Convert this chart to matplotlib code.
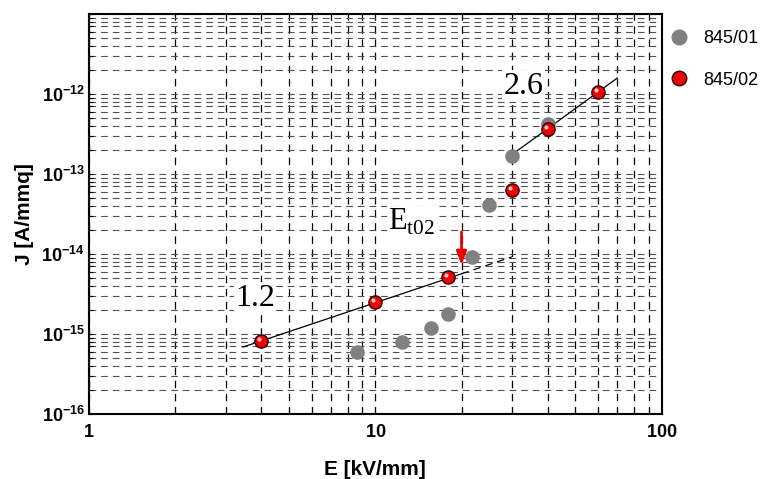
import numpy as np
import matplotlib
matplotlib.use('Agg')
import matplotlib.pyplot as plt
from matplotlib.ticker import LogLocator, FuncFormatter, NullFormatter
from matplotlib.transforms import ScaledTranslation

# Fonts: Arial-like sans for axes, Times-like serif for the annotations
plt.rcParams['font.family'] = ['Liberation Sans', 'DejaVu Sans']
plt.rcParams['mathtext.fontset'] = 'custom'
plt.rcParams['mathtext.rm'] = 'Liberation Sans'
plt.rcParams['mathtext.bf'] = 'Liberation Sans:bold'

# Data
E_01 = [8.65, 12.4, 15.7, 18.0, 21.8, 25.0, 30.0, 40.0]
J_01 = [6.0e-16, 7.9e-16, 1.2e-15, 1.78e-15, 9.2e-15, 4.1e-14, 1.7e-13, 4.2e-13]

E_02 = [4.0, 10.0, 18.0, 30.0, 40.0, 60.0]
J_02 = [8.2e-16, 2.5e-15, 5.2e-15, 6.3e-14, 3.65e-13, 1.06e-12]

# Power-law fits: exponent, anchor point, and E range
slope_low = 1.2
anchor_low = (4.0, 8.2e-16)
E_low_solid = [3.45, 20.0]
E_low_dash = [20.0, 30.0]

slope_high = 2.6
anchor_high = (60.0, 1.06e-12)
E_high = [31.0, 70.0]

# Threshold field marker
E_t02 = 20.0
arrow_J = (2.05e-14, 6.7e-15)


def power_law(E, slope, anchor):
    E = np.asarray(E)
    return anchor[1] * (E / anchor[0]) ** slope


def xfmt(v, p):
    if v < 0.99 or v > 101:
        return ''
    return r'$\mathbf{%d}$' % round(v)


def yfmt(v, p):
    # no label on the top edge (1e-11) nor outside the view
    if v < 0.99e-16 or v > 5e-12:
        return ''
    return r'$\mathbf{10^{%d}}$' % round(np.log10(v))


fig = plt.figure(figsize=(7.64, 4.79), dpi=100)
ax = fig.add_axes([0.1165, 0.1357, 0.7495, 0.835])
ax.set_xscale('log')
ax.set_yscale('log')
ax.set_xlim(1, 100)
ax.set_ylim(1e-16, 1e-11)

# Dashed grid at every major and minor decade step
ax.xaxis.set_minor_locator(LogLocator(base=10, subs=np.arange(2, 10)))
ax.yaxis.set_minor_locator(LogLocator(base=10, subs=np.arange(2, 10)))
ax.xaxis.grid(True, which='both', color='black', linestyle=(0, (6, 4.5)), linewidth=0.9)
ax.yaxis.grid(True, which='both', color='#505050', linestyle=(0, (6, 4.5)), linewidth=0.8)
ax.set_axisbelow(True)

ax.tick_params(which='both', direction='in', length=3, width=0.8)
ax.tick_params(axis='both', labelsize=13)
ax.tick_params(axis='x', pad=7)
ax.tick_params(axis='y', pad=3)
ax.xaxis.set_major_formatter(FuncFormatter(xfmt))
ax.yaxis.set_major_formatter(FuncFormatter(yfmt))
ax.xaxis.set_minor_formatter(NullFormatter())
ax.yaxis.set_minor_formatter(NullFormatter())
for sp in ax.spines.values():
    sp.set_linewidth(1.5)

# Fit lines
ax.plot(E_low_solid, power_law(E_low_solid, slope_low, anchor_low), color='black', lw=0.9, zorder=3)
ax.plot(E_low_dash, power_law(E_low_dash, slope_low, anchor_low), color='black', lw=0.9,
        linestyle=(0, (6, 4)), zorder=3)
ax.plot(E_high, power_law(E_high, slope_high, anchor_high), color='black', lw=0.9, zorder=3)

# Data points
ax.plot(E_01, J_01, linestyle='none', marker='o', markersize=10.5, color='#808080',
        markeredgewidth=0, label='845/01', zorder=4)
ax.plot(E_02, J_02, linestyle='none', marker='o', markersize=9.5, markerfacecolor='#ee0000',
        markeredgecolor='#300000', markeredgewidth=1.0, label='845/02', zorder=5)
# little specular highlight on the red spheres
ax.plot(E_02, J_02, linestyle='none', marker='o', markersize=3, color='white',
        markeredgewidth=0, alpha=0.8, zorder=6,
        transform=ax.transData + ScaledTranslation(-1.5 / 72, 1.5 / 72, fig.dpi_scale_trans))

# Annotations
box = dict(facecolor='white', edgecolor='none', pad=1)
serif = ['Liberation Serif', 'DejaVu Serif']
ax.text(3.8, 2.8e-15, '1.2', family=serif, fontsize=23, ha='center', va='center', bbox=box, zorder=7)
ax.text(32.9, 1.25e-12, '2.6', family=serif, fontsize=23, ha='center', va='center', bbox=box, zorder=7)
ax.text(13.4, 2.5e-14, r'E$_{\mathregular{t02}}$', family=serif, fontsize=22,
        ha='center', va='center', bbox=box, zorder=7)
ax.annotate('', xy=(E_t02, arrow_J[1]), xytext=(E_t02, arrow_J[0]),
            arrowprops=dict(arrowstyle='-|>,head_width=0.3,head_length=0.8', color='#ee0000', lw=2),
            zorder=8)

ax.set_xlabel('E [kV/mm]', fontsize=15, fontweight='bold', labelpad=14)
ax.set_ylabel('J [A/mmq]', fontsize=15, fontweight='bold', labelpad=5)

leg = ax.legend(loc='upper left', bbox_to_anchor=(0.876, 0.937), bbox_transform=fig.transFigure,
                frameon=False, fontsize=13, handletextpad=0.8, labelspacing=1.35,
                borderaxespad=0, borderpad=0, handlelength=1.1, markerscale=1.1)

fig.savefig('out.png', dpi=100)
